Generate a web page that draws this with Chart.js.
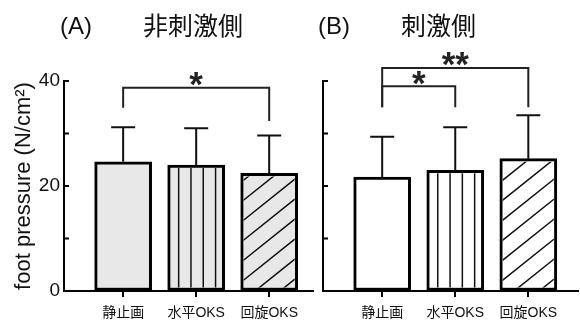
<!DOCTYPE html>
<html>
<head>
<meta charset="utf-8">
<script src="https://cdn.jsdelivr.net/npm/chart.js@4"></script>
<style>
  body { margin: 0; background: #fff; }
  #wrap { position: relative; width: 580px; height: 320px; overflow: hidden;
          font-family: "Liberation Sans", "Noto Sans CJK JP", sans-serif; color: #111; }
  canvas { position: absolute; top: 0; }
  .ttl { position: absolute; top: 10px; line-height: 32px; white-space: nowrap; }
</style>
</head>
<body>
<div id="wrap">
  <canvas id="chartA" width="318" height="320" style="left:0"></canvas>
  <canvas id="chartB" width="262" height="320" style="left:318px"></canvas>
  <div class="ttl" style="left:60px;font-size:24px">(A)</div>
  <div class="ttl" style="left:143px;font-size:25px">非刺激側</div>
  <div class="ttl" style="left:318px;font-size:24px">(B)</div>
  <div class="ttl" style="left:401px;font-size:25px">刺激側</div>
</div>
<script>
const categories = ['静止画', '水平OKS', '回旋OKS'];
const meanA = [24.6, 24.0, 22.4];
const sdA = [6.6, 7.0, 7.2];
const meanB = [21.7, 23.0, 25.2];
const sdB = [7.7, 8.2, 8.3];
const yTicks = [0, 10, 20, 30, 40];
const yLabels = [0, 20, 40];
// significance brackets: category from/to, bar level and leg ends (data units)
const sigA = [{ from: 0, to: 2, level: 38.7, legs: [34.9, 32.4], text: '*' }];
const sigB = [
  { from: 0, to: 2, level: 42.5, legs: [35.0, 35.0], text: '**' },
  { from: 0, to: 1, level: 39.0, legs: [35.0, 35.0], text: '*' }
];

const FONT = '"Liberation Sans", "Noto Sans CJK JP", sans-serif';
const hatch = ['none', 'vertical', 'diagonal'];

// hatching, error bars, inside y ticks and brackets
const decor = {
  id: 'decor',
  afterDatasetsDraw(chart) {
    const ctx = chart.ctx;
    const yS = chart.scales.y, xS = chart.scales.x;
    const sd = chart.options.plugins.decor.sd;
    const sig = chart.options.plugins.decor.sig;
    const meta = chart.getDatasetMeta(0);

    meta.data.forEach((bar, i) => {
      const hw = bar.width / 2, bw = 3;
      const l = bar.x - hw, r = bar.x + hw, t = bar.y, b = bar.base;
      ctx.save();
      ctx.beginPath();
      ctx.rect(l + bw, t + bw, r - l - 2 * bw, b - t - 2 * bw);
      ctx.clip();
      ctx.strokeStyle = '#111';
      ctx.lineWidth = 1.5;
      ctx.beginPath();
      if (hatch[i] === 'vertical') {
        for (let k = 0; k < 4; k++) {
          const x = l + 11 + k * 12.3;
          ctx.moveTo(x, t); ctx.lineTo(x, b);
        }
      } else if (hatch[i] === 'diagonal') {
        const s = 0.8, w = r - l;
        for (let c = b + 52; c > t - 20; c -= 20) {
          ctx.moveTo(l, c); ctx.lineTo(r, c - s * w);
        }
      }
      ctx.stroke();
      ctx.restore();

      // error bar (upper only)
      const cap = yS.getPixelForValue(chart.data.datasets[0].data[i].y + sd[i]);
      ctx.save();
      ctx.strokeStyle = '#111';
      ctx.lineWidth = 2;
      ctx.beginPath();
      ctx.moveTo(bar.x, t); ctx.lineTo(bar.x, cap);
      ctx.moveTo(bar.x - 12, cap); ctx.lineTo(bar.x + 12, cap);
      ctx.stroke();
      ctx.restore();
    });

    // y ticks pointing inward
    const left = chart.chartArea.left;
    ctx.save();
    ctx.strokeStyle = '#000';
    ctx.lineWidth = 2;
    ctx.beginPath();
    yTicks.forEach(v => {
      const py = yS.getPixelForValue(v);
      ctx.moveTo(left, py); ctx.lineTo(left + 5, py);
    });
    ctx.stroke();
    ctx.restore();

    // brackets
    sig.forEach(s => {
      const x1 = xS.getPixelForValue(s.from), x2 = xS.getPixelForValue(s.to);
      const ly = yS.getPixelForValue(s.level);
      ctx.save();
      ctx.strokeStyle = '#222';
      ctx.lineWidth = 2;
      ctx.beginPath();
      ctx.moveTo(x1, yS.getPixelForValue(s.legs[0]));
      ctx.lineTo(x1, ly);
      ctx.lineTo(x2, ly);
      ctx.lineTo(x2, yS.getPixelForValue(s.legs[1]));
      ctx.stroke();
      ctx.font = 'bold 35px ' + FONT;
      ctx.fillStyle = '#222';
      ctx.textAlign = 'center';
      ctx.textBaseline = 'alphabetic';
      const m = ctx.measureText(s.text);
      const cy = ly - 8.5;
      const base = cy + (m.actualBoundingBoxAscent - m.actualBoundingBoxDescent) / 2;
      ctx.fillText(s.text, (x1 + x2) / 2, base);
      ctx.restore();
    });
  }
};

function makeChart(id, means, sd, sig, fill, opts) {
  return new Chart(document.getElementById(id), {
    type: 'bar',
    data: {
      datasets: [{
        data: means.map((v, i) => ({ x: i, y: v })),
        backgroundColor: fill,
        borderColor: '#000',
        borderWidth: 3,
        borderSkipped: false,
        barThickness: 57
      }]
    },
    plugins: [decor],
    options: {
      responsive: false,
      animation: false,
      layout: { padding: { top: 81, right: opts.padRight, left: 0, bottom: 0 } },
      plugins: {
        legend: { display: false },
        tooltip: { enabled: false },
        decor: { sd: sd, sig: sig }
      },
      scales: {
        x: {
          type: 'linear',
          offset: false,
          min: -0.81,
          max: opts.xMax,
          afterBuildTicks: s => { s.ticks = categories.map((_, i) => ({ value: i })); },
          afterFit: s => { s.height = 29; },
          ticks: {
            callback: v => categories[v],
            color: '#111',
            padding: 8,
            maxRotation: 0,
            autoSkip: false,
            font: { size: 14, family: FONT }
          },
          grid: { display: true, offset: false, drawOnChartArea: false, drawTicks: true, tickLength: 6, color: '#000', lineWidth: 2 },
          border: { display: true, color: '#000', width: 2 }
        },
        y: {
          min: 0,
          max: 40,
          afterBuildTicks: s => { s.ticks = yTicks.map(v => ({ value: v })); },
          afterFit: s => { s.width = opts.yWidth; },
          ticks: {
            display: opts.showY,
            callback: v => (yLabels.includes(v) ? String(v) : ''),
            color: '#111',
            padding: 4,
            font: { size: 19, family: FONT }
          },
          title: {
            display: opts.showY,
            text: 'foot pressure (N/cm²)',
            color: '#111',
            padding: { top: 11, bottom: 0 },
            font: { size: 22, family: FONT }
          },
          grid: { display: true, drawOnChartArea: false, drawTicks: false },
          border: { display: true, color: '#000', width: 2 }
        }
      }
    }
  });
}

makeChart('chartA', meanA, sdA, sigA, '#e8e8e8', { padRight: 5, xMax: 2.6, yWidth: 64, showY: true });
makeChart('chartB', meanB, sdB, sigB, '#ffffff', { padRight: 2, xMax: 2.68, yWidth: 5, showY: false });
</script>
</body>
</html>
